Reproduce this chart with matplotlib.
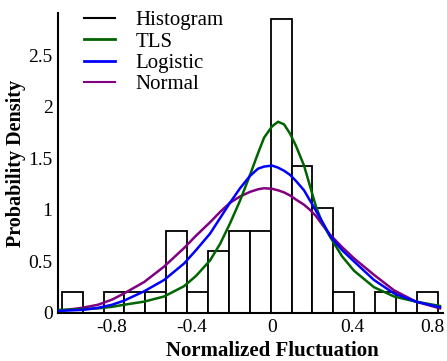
import numpy as np
import matplotlib
matplotlib.use("Agg")
import matplotlib.pyplot as plt
from matplotlib.lines import Line2D

# histogram (density)
bin_lo, bin_hi = -1.0515, 0.8285
bar_heights = [0.2, 0.0, 0.2, 0.2, 0.2, 0.8, 0.2, 0.6, 0.8, 0.8,
               2.85, 1.43, 1.02, 0.2, 0.0, 0.2, 0.0, 0.2]

# fitted curves, sampled by eye
xs = [-1.07, -0.95, -0.87, -0.8, -0.74, -0.64, -0.54, -0.44, -0.38, -0.31,
      -0.26, -0.21, -0.16, -0.11, -0.07, -0.04, 0.0, 0.03, 0.06, 0.09,
      0.12, 0.16, 0.19, 0.22, 0.25, 0.29, 0.35, 0.41, 0.51, 0.61, 0.72, 0.84]
tls = [0.03, 0.035, 0.045, 0.06, 0.08, 0.11, 0.16, 0.26, 0.36, 0.51,
       0.67, 0.87, 1.09, 1.34, 1.55, 1.70, 1.81, 1.855, 1.83, 1.74,
       1.62, 1.43, 1.23, 1.03, 0.88, 0.74, 0.55, 0.41, 0.25, 0.16, 0.11, 0.068]
logistic = [0.02, 0.03, 0.05, 0.08, 0.12, 0.21, 0.32, 0.48, 0.61, 0.77,
            0.92, 1.07, 1.21, 1.33, 1.40, 1.42, 1.43, 1.41, 1.38, 1.34,
            1.28, 1.19, 1.09, 0.99, 0.89, 0.75, 0.61, 0.50, 0.32, 0.19, 0.11, 0.055]
normal = [0.02, 0.05, 0.08, 0.13, 0.19, 0.30, 0.45, 0.63, 0.75, 0.88,
          0.98, 1.07, 1.13, 1.175, 1.20, 1.21, 1.205, 1.19, 1.17, 1.14,
          1.10, 1.05, 1.00, 0.94, 0.86, 0.76, 0.64, 0.53, 0.37, 0.22, 0.11, 0.045]

plt.rcParams['font.family'] = ['Liberation Serif', 'DejaVu Serif']

fig = plt.figure(figsize=(4.47, 3.61), dpi=100)
ax = fig.add_axes([0.130, 0.133, 0.861, 0.831])

edges = np.linspace(bin_lo, bin_hi, len(bar_heights) + 1)
ax.bar(edges[:-1], bar_heights, width=np.diff(edges), align='edge',
       facecolor='white', edgecolor='black', linewidth=1.3, zorder=1)

ax.plot(xs, tls, color='#006400', lw=1.8, zorder=3)
ax.plot(xs, logistic, color='#0000ff', lw=1.8, zorder=3)
ax.plot(xs, normal, color='#800080', lw=1.8, zorder=2)

ax.set_xlim(-1.07, 0.855)
ax.set_ylim(0, 2.91)
ax.set_xticks([-0.8, -0.4, 0, 0.4, 0.8])
ax.set_xticklabels(['-0.8', '-0.4', '0', '0.4', '0.8'])
ax.set_yticks([0, 0.5, 1, 1.5, 2, 2.5])
ax.set_yticklabels(['0', '0.5', '1', '1.5', '2', '2.5'])
ax.tick_params(length=0, labelsize=14, pad=4)
for s in ['top', 'right']:
    ax.spines[s].set_visible(False)
for s in ['left', 'bottom']:
    ax.spines[s].set_linewidth(1.5)

ax.set_xlabel('Normalized Fluctuation', fontsize=15, fontweight='bold')
ax.xaxis.set_label_coords(0.558, -0.095)
ax.set_ylabel('Probability Density', fontsize=14.5, fontweight='bold', labelpad=2)

handles = [Line2D([], [], color='black', lw=1.5),
           Line2D([], [], color='#006400', lw=2),
           Line2D([], [], color='#0000ff', lw=2),
           Line2D([], [], color='#800080', lw=1.5)]
ax.legend(handles, ['Histogram', 'TLS', 'Logistic', 'Normal'],
          loc='upper left', bbox_to_anchor=(0.018, 1.07), frameon=False,
          fontsize=15, handlelength=1.5, handletextpad=1.0, labelspacing=0.08)

fig.savefig('out.png', dpi=100)
